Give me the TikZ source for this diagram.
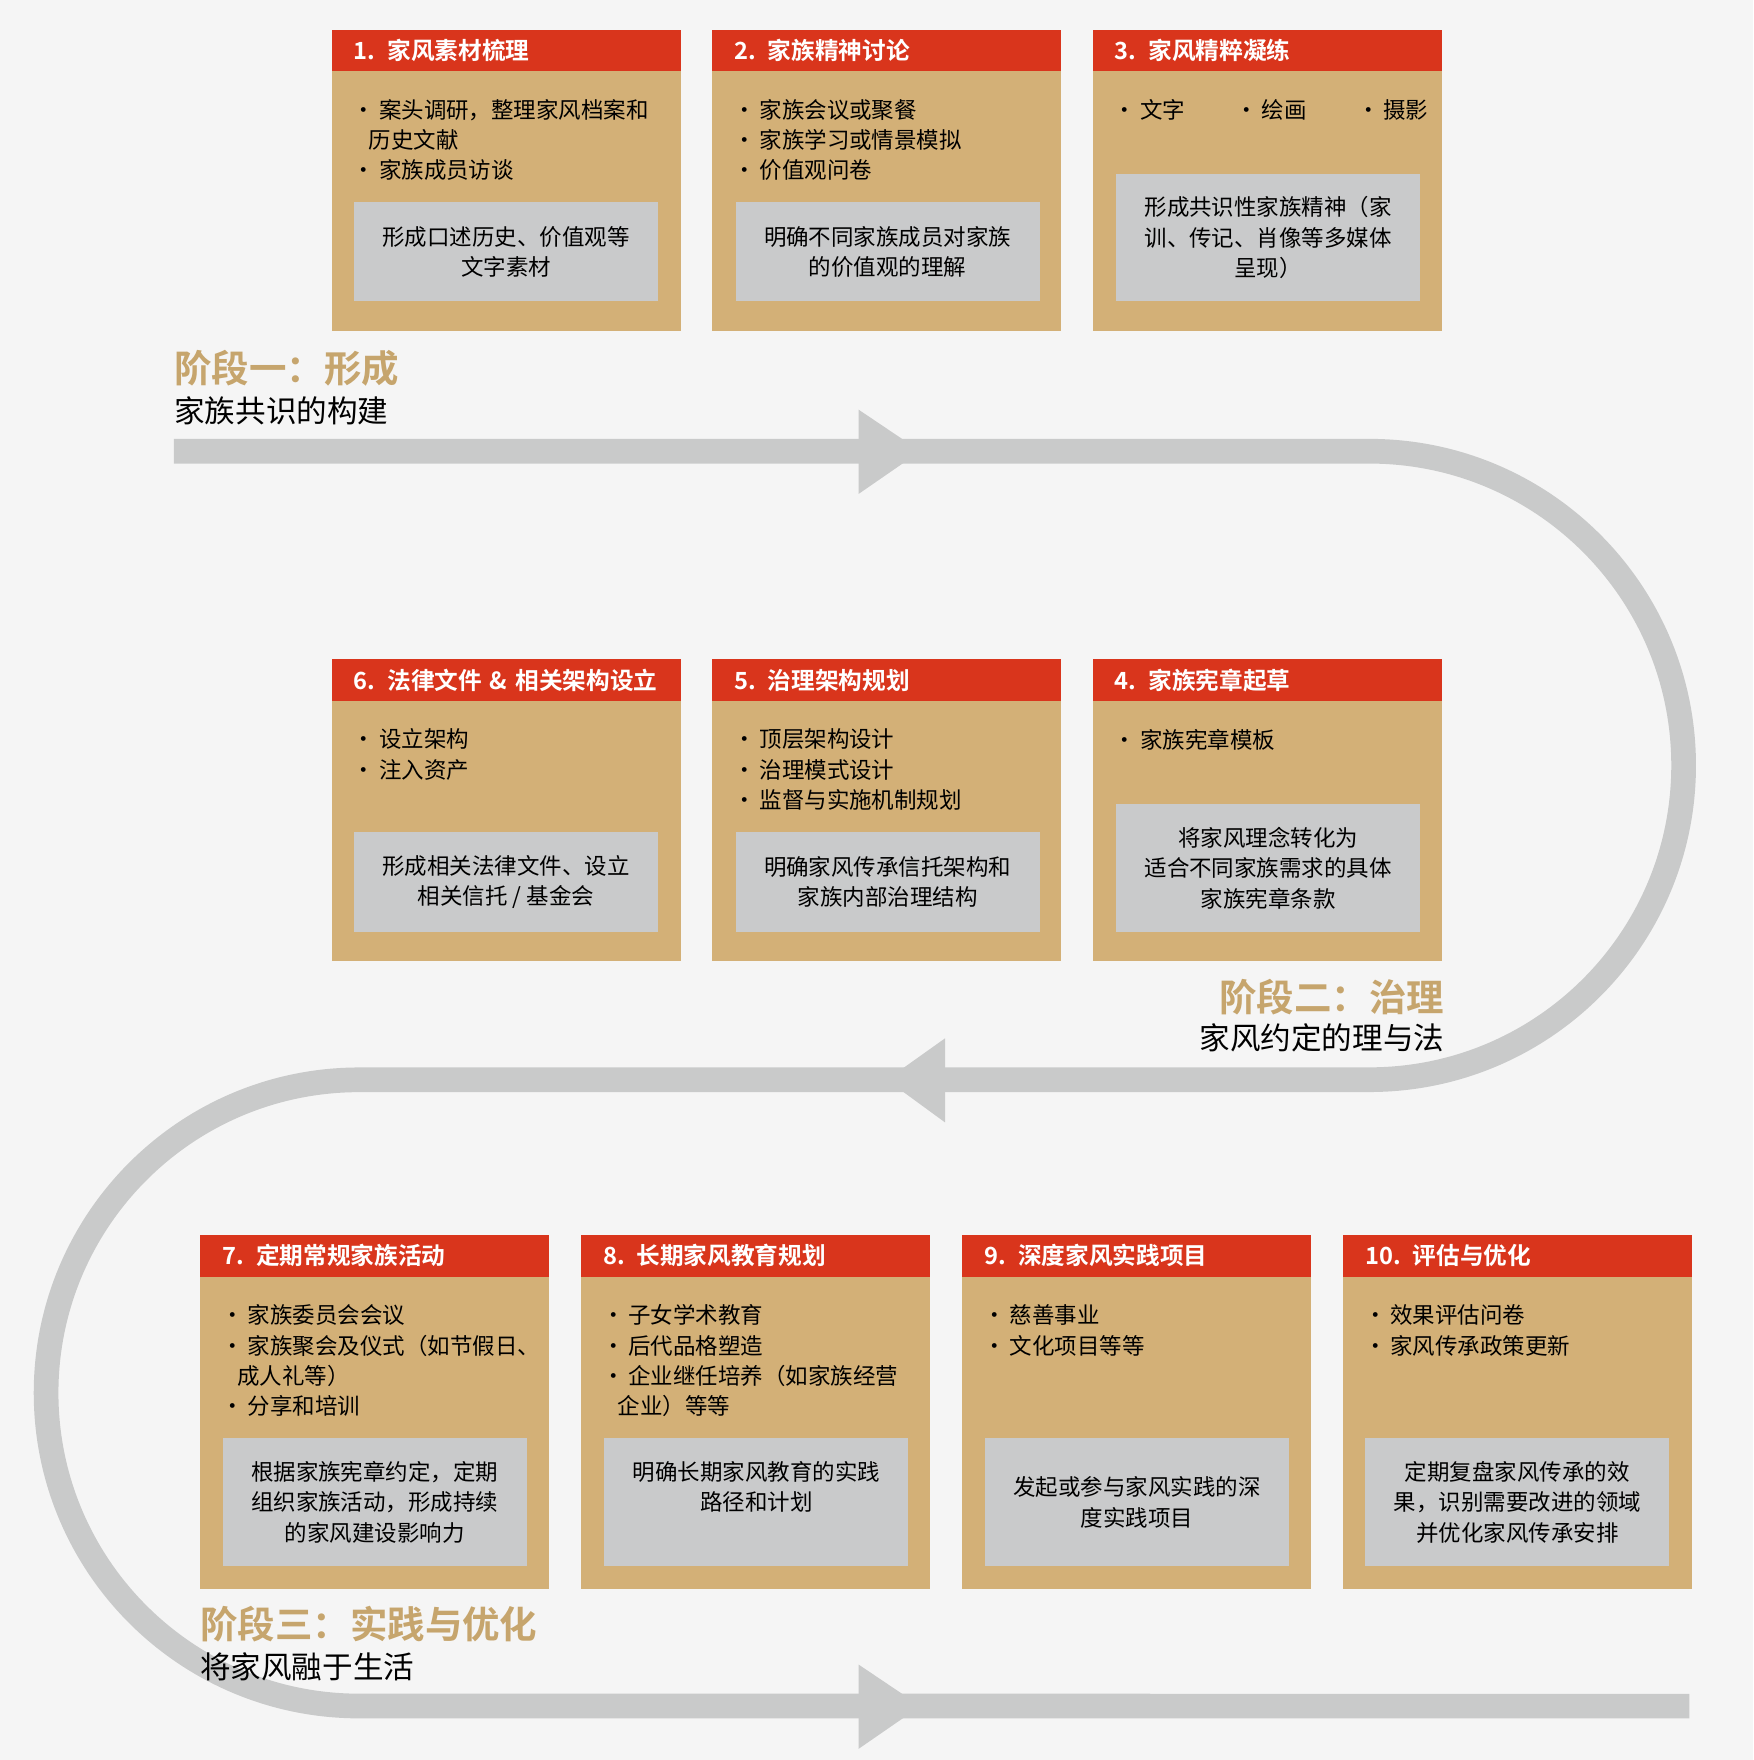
\documentclass[tikz,border=0pt]{standalone}
\usepackage{fontspec}
\setmainfont{Noto Sans CJK SC}[BoldFont={Noto Sans CJK SC Bold}]
\usepackage{tikz}
\usetikzlibrary{positioning}
\definecolor{redhead}{HTML}{D9351C}
\definecolor{tancard}{HTML}{D3B077}
\definecolor{grayres}{HTML}{C9CACB}
\definecolor{goldtxt}{HTML}{C6A56D}
\definecolor{track}{HTML}{C9CACA}

\begin{document}
\begin{tikzpicture}[x=0.02cm, y=-0.02cm]
    % Define styles
    \tikzstyle{card} = [rectangle, anchor=north west, minimum width=6.22cm, minimum height=5.38cm, fill=tancard, inner sep=0pt]
    \tikzstyle{card3} = [card, minimum height=6.3cm]
    \tikzstyle{head} = [rectangle, anchor=north west, minimum width=6.22cm, minimum height=0.74cm, fill=redhead, text=white, font=\bfseries\fontsize{12}{14}\selectfont, inner sep=0pt, text width=6.22cm]
    \tikzstyle{bullets} = [anchor=north west, align=left, font=\fontsize{11.4}{15.4}\selectfont, inner sep=0pt]
    \tikzstyle{result} = [rectangle, anchor=north west, minimum width=5.42cm, fill=grayres, align=center, font=\fontsize{11.4}{15.4}\selectfont, inner sep=0pt]
    \tikzstyle{stage} = [font=\bfseries\fontsize{19}{22}\selectfont, text=goldtxt, inner sep=0pt]
    \tikzstyle{substage} = [font=\fontsize{15.5}{18}\selectfont, inner sep=0pt]
    \tikzstyle{tip} = [fill=track]

    \fill[white!96!black] (0,0) rectangle (1562,1568);

    % Track
    \coordinate (t0) at (155,402);
    \coordinate (t1) at (1220,402);
    \coordinate (t2) at (320,962);
    \coordinate (t3) at (1505,1520);
    \draw[track, line width=0.44cm] (t0) -- (t1) arc[start angle=90, end angle=-90, radius=5.6cm] -- (t2)
        arc[start angle=90, end angle=270, radius=5.58cm] -- (t3);
    \fill[tip] (765,365) -- (820,402) -- (765,440) -- cycle;
    \fill[tip] (842,925) -- (790,962) -- (842,1000) -- cycle;
    \fill[tip] (765,1483) -- (820,1520) -- (765,1558) -- cycle;

    % Stage labels
    \node[stage, anchor=west] (s1) at (155,328) {阶段一：形成};
    \node[substage, anchor=west] (s1b) at (155,366) {家族共识的构建};
    \node[stage, anchor=east] (s2) at (1287,888) {阶段二：治理};
    \node[substage, anchor=east] (s2b) at (1287,925) {家风约定的理与法};
    \node[stage, anchor=west] (s3) at (178,1447) {阶段三：实践与优化};
    \node[substage, anchor=west] (s3b) at (178,1485) {将家风融于生活};

    % Row 1
    \node[card] (c1) at (295,26) {};
    \node[head] (h1) at (295,26) {\hspace{0.4cm}1. 家风素材梳理};
    \node[bullets] (b1) at (314,88) {·\,案头调研，整理家风档案和\\\hspace{0.28cm}历史文献\\·\,家族成员访谈};
    \node[result, minimum height=1.76cm] (r1) at (315,180) {形成口述历史、价值观等\\文字素材};

    \node[card] (c2) at (634,26) {};
    \node[head] (h2) at (634,26) {\hspace{0.4cm}2. 家族精神讨论};
    \node[bullets] (b2) at (653,88) {·\,家族会议或聚餐\\·\,家族学习或情景模拟\\·\,价值观问卷};
    \node[result, minimum height=1.76cm] (r2) at (655,180) {明确不同家族成员对家族\\的价值观的理解};

    \node[card] (c3) at (973,26) {};
    \node[head] (h3) at (973,26) {\hspace{0.4cm}3. 家风精粹凝练};
    \node[bullets] (b3) at (992,88) {·\,文字\hspace{0.9cm}·\,绘画\hspace{0.9cm}·\,摄影};
    \node[result, minimum height=2.26cm] (r3) at (994,155) {形成共识性家族精神（家\\训、传记、肖像等多媒体\\呈现）};

    % Row 2
    \node[card] (c6) at (295,587) {};
    \node[head] (h6) at (295,587) {\hspace{0.4cm}6. 法律文件 \& 相关架构设立};
    \node[bullets] (b6) at (314,649) {·\,设立架构\\·\,注入资产};
    \node[result, minimum height=1.78cm] (r6) at (315,741) {形成相关法律文件、设立\\相关信托 / 基金会};

    \node[card] (c5) at (634,587) {};
    \node[head] (h5) at (634,587) {\hspace{0.4cm}5. 治理架构规划};
    \node[bullets] (b5) at (653,649) {·\,顶层架构设计\\·\,治理模式设计\\·\,监督与实施机制规划};
    \node[result, minimum height=1.78cm] (r5) at (655,741) {明确家风传承信托架构和\\家族内部治理结构};

    \node[card] (c4) at (973,587) {};
    \node[head] (h4) at (973,587) {\hspace{0.4cm}4. 家族宪章起草};
    \node[bullets] (b4) at (992,649) {·\,家族宪章模板};
    \node[result, minimum height=2.28cm] (r4) at (994,716) {将家风理念转化为\\适合不同家族需求的具体\\家族宪章条款};

    % Row 3
    \node[card3] (c7) at (178,1100) {};
    \node[head] (h7) at (178,1100) {\hspace{0.4cm}7. 定期常规家族活动};
    \node[bullets] (b7) at (197,1162) {·\,家族委员会会议\\·\,家族聚会及仪式（如节假日、\\\hspace{0.28cm}成人礼等）\\·\,分享和培训};
    \node[result, minimum height=2.28cm] (r7) at (198,1281) {根据家族宪章约定，定期\\组织家族活动，形成持续\\的家风建设影响力};

    \node[card3] (c8) at (517,1100) {};
    \node[head] (h8) at (517,1100) {\hspace{0.4cm}8. 长期家风教育规划};
    \node[bullets] (b8) at (536,1162) {·\,子女学术教育\\·\,后代品格塑造\\·\,企业继任培养（如家族经营\\\hspace{0.28cm}企业）等等};
    \node[result, minimum height=2.28cm] (r8) at (538,1281) {明确长期家风教育的实践\\路径和计划\\\phantom{路}};

    \node[card3] (c9) at (857,1100) {};
    \node[head] (h9) at (857,1100) {\hspace{0.4cm}9. 深度家风实践项目};
    \node[bullets] (b9) at (876,1162) {·\,慈善事业\\·\,文化项目等等};
    \node[result, minimum height=2.28cm] (r9) at (877,1281) {发起或参与家风实践的深\\度实践项目};

    \node[card3] (c10) at (1196,1100) {};
    \node[head] (h10) at (1196,1100) {\hspace{0.4cm}10. 评估与优化};
    \node[bullets] (b10) at (1215,1162) {·\,效果评估问卷\\·\,家风传承政策更新};
    \node[result, minimum height=2.28cm] (r10) at (1216,1281) {定期复盘家风传承的效\\果，识别需要改进的领域\\并优化家风传承安排};

    \useasboundingbox (0,0) rectangle (1562,1568);
\end{tikzpicture}
\end{document}
